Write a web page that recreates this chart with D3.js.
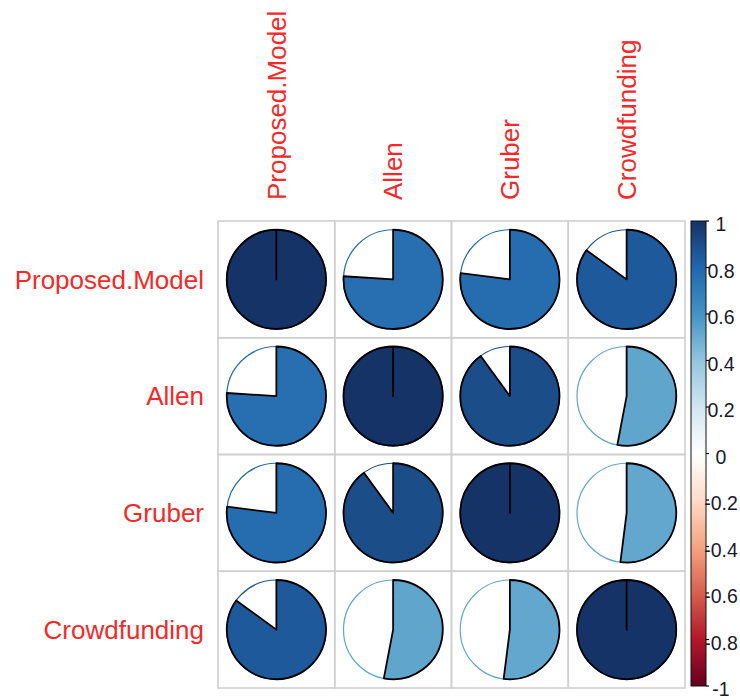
<!DOCTYPE html>
<html>
<head>
<meta charset="utf-8">
<script src="https://cdn.jsdelivr.net/npm/d3@7"></script>
<style>
  html, body { margin: 0; padding: 0; background: #ffffff; }
  svg { display: block; font-family: "Liberation Sans", Arial, sans-serif; }
</style>
</head>
<body>
<svg id="chart" width="740" height="700"></svg>
<script>
// Variables of the correlation matrix (rows and columns share the same order)
const variables = ["Proposed.Model", "Allen", "Gruber", "Crowdfunding"];

// Correlation coefficients, one row per variable
const rowProposed     = [1.00, 0.76, 0.77, 0.85];
const rowAllen        = [0.76, 1.00, 0.90, 0.53];
const rowGruber       = [0.77, 0.90, 1.00, 0.52];
const rowCrowdfunding = [0.85, 0.53, 0.52, 1.00];
const correlations = [rowProposed, rowAllen, rowGruber, rowCrowdfunding];

// Colour legend ticks
const legendTicks = [1, 0.8, 0.6, 0.4, 0.2, 0, -0.2, -0.4, -0.6, -0.8, -1];
const legendTickLabels = ["1", "0.8", "0.6", "0.4", "0.2", "0", "-0.2", "-0.4", "-0.6", "-0.8", "-1"];

// Diverging red-blue palette from -1 to 1
const paletteStops = [-1, -0.8, -0.6, -0.4, -0.2, 0, 0.2, 0.4, 0.6, 0.8, 1];
const paletteColors = ["#67001F", "#B2182B", "#D6604D", "#F4A582", "#FDDBC7", "#FFFFFF",
                       "#D1E5F0", "#92C5DE", "#4393C3", "#2166AC", "#153366"];

const svg = d3.select("#chart");

const gridLeft = 218, gridTop = 221, gridSize = 467;
const n = variables.length;

const x = d3.scaleBand().domain(d3.range(n)).range([gridLeft, gridLeft + gridSize]);
const y = d3.scaleBand().domain(d3.range(n)).range([gridTop, gridTop + gridSize]);
const color = d3.scaleLinear().domain(paletteStops).range(paletteColors).interpolate(d3.interpolateRgb);

const cell = x.bandwidth();
const radius = cell * 0.425;

// Grid cells
const cells = [];
correlations.forEach((row, i) => row.forEach((v, j) => cells.push({ i, j, v })));

svg.append("g")
  .selectAll("rect")
  .data(cells)
  .join("rect")
  .attr("x", d => x(d.j))
  .attr("y", d => y(d.i))
  .attr("width", cell)
  .attr("height", cell)
  .attr("fill", "none")
  .attr("stroke", "#cfcfcf")
  .attr("stroke-width", 1.6);

// Pie glyphs: full circle outline in the cell colour, then the filled sector
const pies = svg.append("g")
  .selectAll("g")
  .data(cells)
  .join("g")
  .attr("transform", d => `translate(${x(d.j) + cell / 2},${y(d.i) + cell / 2})`);

pies.append("circle")
  .attr("r", radius)
  .attr("fill", "#ffffff")
  .attr("stroke", d => color(d.v))
  .attr("stroke-width", 1.2);

function sectorPath(v) {
  const p = d3.path();
  const a0 = -Math.PI / 2;
  const a1 = a0 + Math.abs(v) * 2 * Math.PI * (v >= 0 ? 1 : -1);
  p.moveTo(0, 0);
  p.lineTo(radius * Math.cos(a0), radius * Math.sin(a0));
  p.arc(0, 0, radius, a0, a1, v < 0);
  p.closePath();
  return p.toString();
}

pies.append("path")
  .attr("d", d => sectorPath(d.v))
  .attr("fill", d => color(d.v))
  .attr("stroke", "#000000")
  .attr("stroke-width", 1.8)
  .attr("stroke-linejoin", "round");

// Row labels
const labelSize = 26;
svg.append("g")
  .selectAll("text")
  .data(variables)
  .join("text")
  .attr("x", gridLeft - 14)
  .attr("y", (d, i) => y(i) + cell / 2 + labelSize * 0.36)
  .attr("text-anchor", "end")
  .attr("font-size", labelSize)
  .attr("fill", "#f42a2a")
  .text(d => d);

// Column labels, rotated
svg.append("g")
  .selectAll("text")
  .data(variables)
  .join("text")
  .attr("transform", (d, i) => `translate(${x(i) + cell / 2 + labelSize * 0.36},${gridTop - 21}) rotate(-90)`)
  .attr("text-anchor", "start")
  .attr("font-size", labelSize)
  .attr("fill", "#f42a2a")
  .text(d => d);

// Colour legend
const barLeft = 691, barWidth = 15;
const legendY = d3.scaleLinear().domain([1, -1]).range([gridTop, gridTop + gridSize - 2]);

const defs = svg.append("defs");
const grad = defs.append("linearGradient")
  .attr("id", "legendGradient")
  .attr("x1", 0).attr("y1", 0).attr("x2", 0).attr("y2", 1);
grad.selectAll("stop")
  .data(paletteStops.slice().reverse())
  .join("stop")
  .attr("offset", d => (1 - d) / 2)
  .attr("stop-color", d => color(d));

svg.append("rect")
  .attr("x", barLeft)
  .attr("y", legendY(1))
  .attr("width", barWidth)
  .attr("height", legendY(-1) - legendY(1))
  .attr("fill", "url(#legendGradient)")
  .attr("stroke", "#111111")
  .attr("stroke-width", 1);

const legendAxis = svg.append("g");
legendAxis.selectAll("line")
  .data(legendTicks)
  .join("line")
  .attr("x1", barLeft + barWidth)
  .attr("x2", barLeft + barWidth + 3)
  .attr("y1", d => legendY(d))
  .attr("y2", d => legendY(d))
  .attr("stroke", "#000000")
  .attr("stroke-width", 1.2);

const tickSize = 19.5;
legendAxis.selectAll("text")
  .data(legendTicks)
  .join("text")
  .attr("x", 721)
  .attr("y", d => legendY(d) + 3 + tickSize * 0.36)
  .attr("text-anchor", "middle")
  .attr("font-size", tickSize)
  .attr("fill", "#1a1a2a")
  .text((d, i) => legendTickLabels[i]);
</script>
</body>
</html>
